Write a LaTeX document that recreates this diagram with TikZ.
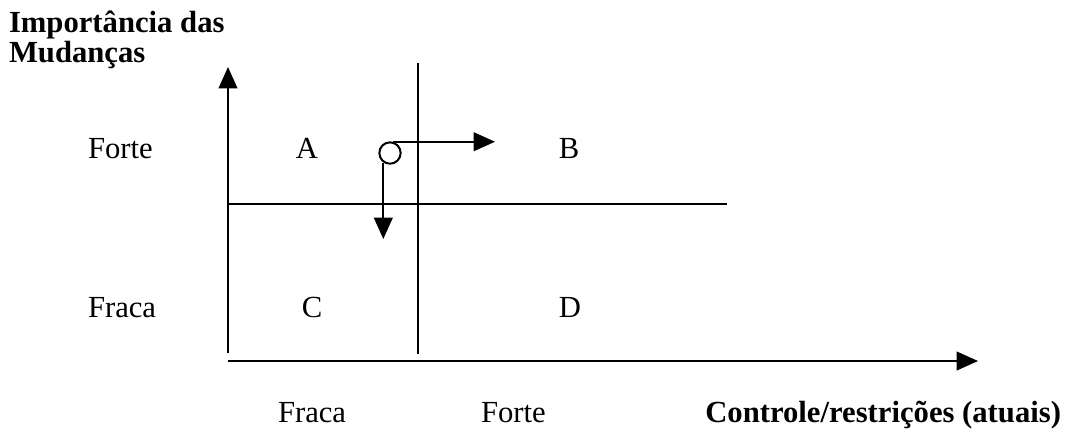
\documentclass[tikz,border=0pt]{standalone}
\usepackage{fontspec}
\setmainfont{Liberation Serif}
\usetikzlibrary{arrows.meta}

\begin{document}
\begin{tikzpicture}[x=0.75pt, y=-0.75pt, >={Triangle[length=16pt, width=14pt]},
        line width=1.5pt]
    \tikzset{lbl/.style={inner sep=0pt, anchor=base, font=\fontsize{23}{27}\selectfont},
             lblw/.style={lbl, anchor=base west},
             ttl/.style={lbl, font=\fontsize{23}{27}\selectfont\bfseries},
             flow/.style={->, line width=1.5pt}}
    \useasboundingbox (0,0) rectangle (1071,430);

    % Axis title
    \node[ttl, anchor=base west] (ttl1) at (8,32) {Importância das};
    \node[ttl, anchor=base west] (ttl2) at (8,62) {Mudanças};

    % Axes
    \coordinate (yb) at (228,353);
    \coordinate (yt) at (228,67);
    \coordinate (xl) at (228,361);
    \coordinate (xr) at (978,361);
    \draw[->] (yb) -- (yt);
    \draw[->] (xl) -- (xr);

    % Quadrant lines
    \coordinate (vt) at (418,63);
    \coordinate (vb) at (418,354);
    \coordinate (hl) at (228,204);
    \coordinate (hr) at (727,204);
    \draw (vt) -- (vb);
    \draw (hl) -- (hr);

    % Row labels
    \node[lblw] (forte) at (87,158) {Forte};
    \node[lblw] (fraca) at (87,317) {Fraca};

    % Quadrants
    \node[lbl] (qa) at (307,158) {A};
    \node[lbl] (qb) at (569,158) {B};
    \node[lbl] (qc) at (312,317) {C};
    \node[lbl] (qd) at (570,317) {D};

    % Column labels
    \node[lblw] (cfraca) at (277,422) {Fraca};
    \node[lblw] (cforte) at (480,422) {Forte};
    \node[ttl, anchor=base east] (xttl) at (1062,422) {Controle/restrições (atuais)};

    % Moving point
    \node[draw, circle, line width=1.5pt, minimum size=16pt, inner sep=0pt] (pt) at (390,153) {};
    \coordinate (rtip) at (495,143);
    \coordinate (dtip) at (381,239);
    \draw[flow] (pt.75) -- (pt.75 -| rtip);
    \draw[flow] (pt.235) -- (pt.235 |- dtip);

\end{tikzpicture}
\end{document}
